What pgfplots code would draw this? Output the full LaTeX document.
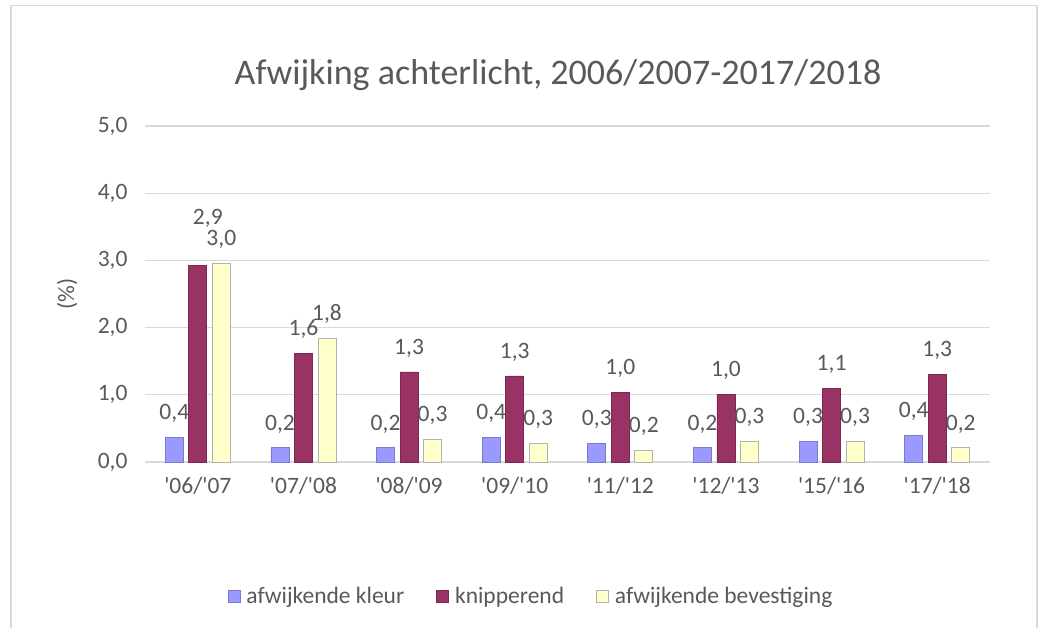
\documentclass[border=0pt]{standalone}
\usepackage{pgfplots}
\pgfplotsset{compat=1.18}
\usepackage{pgfplotstable}
\usepackage{fontspec}
\setmainfont{Carlito}[Ligatures=TeXOff]
\definecolor{txt}{HTML}{595959}
\definecolor{grid}{HTML}{D9D9D9}
\definecolor{cblue}{HTML}{9999FF}
\definecolor{cred}{HTML}{993366}
\definecolor{cyel}{HTML}{FFFFCC}

\pgfplotstableread{
x y lbl off xoff
0 0.36 0,4 24 0
1 0.21 0,2 24 0
2 0.21 0,2 24 0
3 0.36 0,4 24 0
4 0.28 0,3 24 0
5 0.21 0,2 24 0
6 0.30 0,3 24 0
7 0.40 0,4 24 0
}\tblblue
\pgfplotstableread{
x y lbl off xoff
0 2.92 2,9 47 10
1 1.62 1,6 24 0
2 1.34 1,3 24 0
3 1.28 1,3 24 0
4 1.04 1,0 24 0
5 1.00 1,0 24 0
6 1.10 1,1 24 0
7 1.30 1,3 24 0
}\tblred
\pgfplotstableread{
x y lbl off xoff
0 2.95 3,0 24 0
1 1.84 1,8 24 0
2 0.34 0,3 24 0
3 0.28 0,3 24 0
4 0.17 0,2 24 0
5 0.30 0,3 24 0
6 0.30 0,3 24 0
7 0.21 0,2 24 0
}\tblyel

\begin{document}
\begin{tikzpicture}[x=1bp,y=1bp]
\useasboundingbox (0,0) rectangle (1040,628);
\draw[grid, line width=1.5bp] (11,0) -- (11,622.5) -- (1037,622.5) -- (1037,0);
\node[text=txt, font=\fontsize{36bp}{42bp}\selectfont] at (558,553) {Afwijking achterlicht, 2006/2007-2017/2018};
\begin{axis}[
  at={(145bp,166bp)}, anchor=south west,
  scale only axis, width=845bp, height=336bp,
  xmin=-0.5, xmax=7.5, ymin=0, ymax=5,
  ybar, bar width=18bp,
  axis x line*=bottom,
  axis y line*=left,
  x axis line style={draw=grid, line width=1.5bp, -},
  y axis line style={draw=none},
  ytick={0,1,2,3,4,5},
  yticklabels={{0,0},{1,0},{2,0},{3,0},{4,0},{5,0}},
  ymajorgrids, grid style={draw=grid, line width=1.2bp},
  xtick={0,...,7},
  xticklabels={'06/'07,'07/'08,'08/'09,'09/'10,'11/'12,'12/'13,'15/'16,'17/'18},
  major tick length=0pt,
  tick label style={text=txt, font=\fontsize{23.5bp}{27bp}\selectfont},
  yticklabel style={xshift=-14bp},
  xticklabel style={yshift=-12bp},
  ylabel={(\%)},
  ylabel style={at={(axis description cs:-0.092,0.5)}, anchor=center, rotate=0, text=txt, font=\fontsize{23.5bp}{27bp}\selectfont},
  nodes near coords,
  point meta=explicit symbolic,
  visualization depends on={\thisrow{off} \as \myoff},
  visualization depends on={\thisrow{xoff} \as \myxoff},
  nodes near coords style={anchor=center, yshift=\myoff*1bp, xshift=\myxoff*1bp, text=txt, font=\fontsize{23.5bp}{27bp}\selectfont, inner sep=0pt},
  legend columns=-1,
  legend style={draw=none, at={(axis description cs:0.4568,-0.399)}, anchor=center, text=txt, font=\fontsize{23.5bp}{27bp}\selectfont,
    /tikz/every odd column/.append style={column sep=4bp},
    /tikz/every even column/.append style={column sep=30bp}},
  legend image code/.code={\draw[#1] (0bp,-6bp) rectangle (12bp,6bp);},
  clip=false,
]
\addplot[fill=cblue, draw=cblue!80!black, line width=0.8bp, bar shift=-23.5bp] table[x=x, y=y, meta=lbl] {\tblblue};
\addlegendentry{afwijkende kleur}
\addplot[fill=cred, draw=cred!80!black, line width=0.8bp, bar shift=0bp] table[x=x, y=y, meta=lbl] {\tblred};
\addlegendentry{knipperend}
\addplot[fill=cyel, draw=black!30, line width=0.8bp, bar shift=23.5bp] table[x=x, y=y, meta=lbl] {\tblyel};
\addlegendentry{afwijkende bevestiging}
\end{axis}
\end{tikzpicture}
\end{document}
